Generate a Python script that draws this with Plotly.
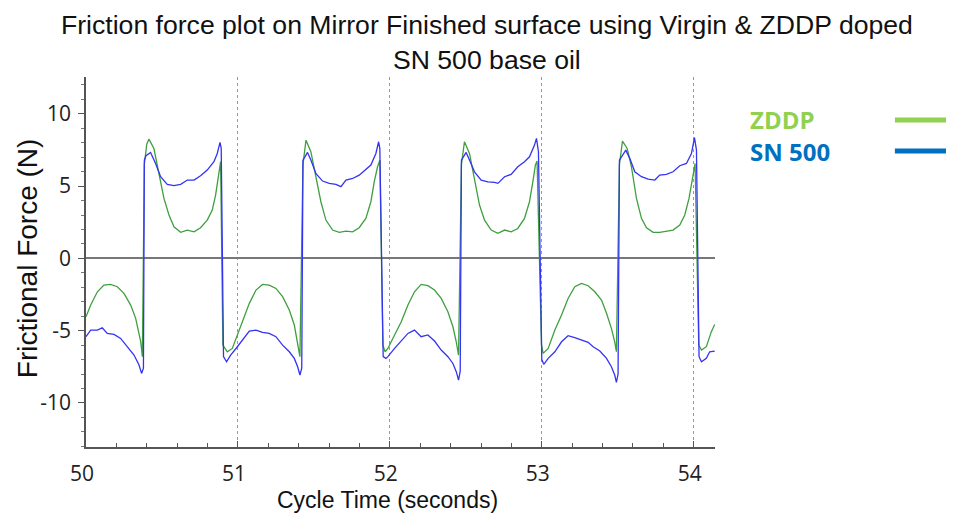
import plotly.graph_objects as go

# ---------------- data ----------------
zddp_t = [
    50.000, 50.031, 50.075, 50.118, 50.162, 50.206, 50.250, 50.294, 50.327, 50.360, 50.371,
    50.384, 50.400, 50.414, 50.447, 50.480, 50.513, 50.546, 50.579, 50.623, 50.667, 50.711,
    50.754, 50.798, 50.831, 50.853, 50.875, 50.886,
    50.901, 50.930, 50.963, 50.990, 51.031, 51.075, 51.119, 51.162, 51.206, 51.250, 51.294,
    51.338, 51.371, 51.393, 51.408,
    51.428, 51.448, 51.480, 51.513, 51.546, 51.579, 51.623, 51.667, 51.711, 51.755, 51.798,
    51.842, 51.875, 51.897, 51.919, 51.934,
    51.954, 51.969, 51.987, 52.031, 52.075, 52.119, 52.162, 52.206, 52.250, 52.294, 52.338,
    52.382, 52.415, 52.437, 52.452,
    52.471, 52.491, 52.524, 52.557, 52.590, 52.623, 52.667, 52.711, 52.755, 52.798, 52.842,
    52.886, 52.919, 52.941, 52.958, 52.969,
    52.998, 53.009, 53.042, 53.086, 53.130, 53.173, 53.217, 53.261, 53.305, 53.349, 53.393,
    53.426, 53.458, 53.480, 53.491,
    53.511, 53.531, 53.562, 53.590, 53.623, 53.656, 53.689, 53.733, 53.776, 53.820, 53.864,
    53.908, 53.941, 53.969, 53.991, 54.009,
    54.033, 54.051, 54.083, 54.116, 54.138,
]
zddp_f = [
    -4.04, -3.23, -2.31, -1.85, -1.80, -1.96, -2.42, -3.23, -4.15, -5.76, -6.80,
    6.50, 7.90, 8.25, 7.60, 5.99, 4.15, 3.00, 2.19, 1.80, 1.96, 1.84,
    2.12, 2.65, 3.34, 4.38, 5.88, 6.69,
    -6.00, -6.46, -6.23, -5.50, -4.38, -3.11, -2.19, -1.80, -1.85, -2.08, -2.65,
    -3.57, -4.61, -5.77, -6.80,
    6.50, 8.18, 7.38, 5.76, 3.92, 2.65, 1.96, 1.80, 1.89, 1.84, 2.12,
    2.77, 3.92, 5.30, 6.34, 6.80,
    -6.00, -6.46, -6.23, -5.30, -4.38, -3.23, -2.31, -1.80, -1.89, -2.19, -2.77,
    -3.69, -4.73, -5.77, -6.69,
    6.50, 8.07, 7.26, 5.53, 3.69, 2.65, 1.96, 1.73, 1.96, 1.84, 2.07,
    2.77, 3.92, 5.30, 6.46, 6.73,
    -6.00, -6.57, -6.23, -4.96, -3.92, -2.77, -1.96, -1.73, -1.89, -2.31, -2.88,
    -3.80, -4.84, -5.77, -6.46,
    6.50, 8.11, 7.61, 6.34, 4.15, 2.77, 2.12, 1.80, 1.80, 1.89, 1.96,
    2.31, 3.00, 4.15, 5.53, 6.57,
    -6.00, -6.34, -6.11, -5.07, -4.57,
]

sn500_t = [
    50.000, 50.031, 50.075, 50.107, 50.140, 50.184, 50.228, 50.272, 50.316, 50.349, 50.366,
    50.378, 50.384, 50.395, 50.425, 50.458, 50.491, 50.535, 50.579, 50.623, 50.667, 50.711,
    50.754, 50.798, 50.842, 50.864, 50.882, 50.890,
    50.905, 50.925, 50.952, 50.990, 51.031, 51.075, 51.119, 51.162, 51.206, 51.250, 51.294,
    51.338, 51.371, 51.393, 51.408, 51.420,
    51.428, 51.458, 51.480, 51.513, 51.557, 51.601, 51.645, 51.678, 51.711, 51.755, 51.798,
    51.842, 51.875, 51.908, 51.926, 51.934,
    51.956, 51.974, 51.987, 52.031, 52.075, 52.119, 52.162, 52.206, 52.250, 52.294, 52.338,
    52.382, 52.415, 52.437, 52.452, 52.463,
    52.471, 52.502, 52.524, 52.557, 52.601, 52.645, 52.689, 52.711, 52.755, 52.798, 52.842,
    52.886, 52.919, 52.952, 52.965, 52.978,
    53.000, 53.013, 53.042, 53.086, 53.130, 53.173, 53.217, 53.261, 53.305, 53.338, 53.382,
    53.426, 53.458, 53.480, 53.491, 53.502,
    53.511, 53.553, 53.579, 53.612, 53.656, 53.700, 53.744, 53.776, 53.820, 53.864, 53.908,
    53.952, 53.985, 54.005, 54.018,
    54.035, 54.051, 54.083, 54.105, 54.138,
]
sn500_f = [
    -5.42, -4.96, -4.96, -4.80, -5.19, -5.26, -5.54, -6.11, -6.69, -7.38, -7.96,
    -7.60, 6.80, 7.10, 7.33, 6.57, 5.65, 5.12, 5.03, 5.12, 5.42, 5.42,
    5.72, 6.11, 6.69, 7.26, 8.03, 7.61,
    -6.80, -7.15, -6.69, -6.20, -5.65, -5.03, -4.96, -5.12, -5.19, -5.42, -6.00,
    -6.46, -6.92, -7.50, -8.07, -7.60,
    6.80, 7.33, 6.80, 5.88, 5.35, 5.19, 5.12, 4.96, 5.42, 5.53, 5.76,
    6.18, 6.46, 7.26, 8.07, 7.60,
    -6.80, -6.92, -6.80, -6.23, -5.72, -5.19, -4.96, -5.42, -5.30, -5.72, -6.34,
    -6.80, -7.27, -7.84, -8.42, -7.80,
    6.80, 7.33, 6.80, 5.99, 5.42, 5.30, 5.26, 5.19, 5.65, 5.81, 6.34,
    6.69, 7.03, 7.84, 8.30, 7.38,
    -7.00, -7.33, -6.92, -6.46, -5.77, -5.35, -5.49, -5.65, -5.81, -6.11, -6.41,
    -6.92, -7.50, -8.07, -8.58, -8.00,
    6.80, 7.49, 6.92, 5.99, 5.65, 5.49, 5.42, 5.76, 5.81, 5.99, 6.41,
    6.57, 7.26, 8.35, 7.49,
    -6.80, -7.15, -6.92, -6.46, -6.41,
]

series_names = ["ZDDP", "SN 500"]
x_tick_vals = [50, 51, 52, 53, 54]
y_tick_vals = [-10, -5, 0, 5, 10]

title_line1 = "Friction force plot on Mirror Finished surface using Virgin & ZDDP doped"
title_line2 = "SN 500 base oil"
x_title = "Cycle Time (seconds)"
y_title = "Frictional Force (N)"

# ---------------- figure ----------------
fig = go.Figure()
fig.add_trace(go.Scatter(x=zddp_t, y=zddp_f, mode="lines", name=series_names[0],
                         line=dict(color="#3f9f3f", width=1.3)))
fig.add_trace(go.Scatter(x=sn500_t, y=sn500_f, mode="lines", name=series_names[1],
                         line=dict(color="#3333f5", width=1.3)))

# the page body has an 8px margin, so the figure is sized/offset to compensate
fig.update_layout(
    width=946, height=507,
    margin=dict(l=78, r=239, t=69, b=68),
    paper_bgcolor="white", plot_bgcolor="white",
    showlegend=False,
)

title_font = dict(family="Liberation Sans, Arial, sans-serif", size=26.6, color="#111")
for txt, yy in zip([title_line1, title_line2], [1.141, 1.046]):
    fig.add_annotation(text=txt, xref="paper", yref="paper", x=0.6375, y=yy,
                       xanchor="center", yanchor="middle", showarrow=False, font=title_font)

# axis titles
fig.add_annotation(text=x_title, xref="paper", yref="paper", x=0.48, y=-0.143,
                   xanchor="center", yanchor="middle", showarrow=False,
                   font=dict(family="Liberation Sans, Arial, sans-serif", size=23, color="#111"))
fig.add_annotation(text=y_title, xref="paper", yref="paper", x=-0.094, y=0.51,
                   xanchor="center", yanchor="middle", showarrow=False, textangle=-90,
                   font=dict(family="Liberation Sans, Arial, sans-serif", size=28, color="#111"))

fig.update_xaxes(
    range=[50, 54.14], tickvals=x_tick_vals, ticktext=[str(v) for v in x_tick_vals],
    automargin=False,
    showline=True, linecolor="#555", linewidth=1.5,
    ticks="inside", ticklen=6, tickcolor="#555", tickwidth=1,
    minor=dict(dtick=0.2, tick0=50, ticks="inside", ticklen=4, tickcolor="#555", showgrid=False),
    showgrid=True, gridcolor="#999", griddash="dot", gridwidth=1,
    zeroline=False,
    tickfont=dict(family="Open Sans, sans-serif", size=21, color="#222"),
    ticklabelstandoff=7, ticklabelshift=-4,
)
fig.update_yaxes(
    range=[-13.05, 12.55], tickvals=y_tick_vals, ticktext=[str(v) for v in y_tick_vals],
    automargin=False,
    showline=True, linecolor="#555", linewidth=1.5,
    ticks="outside", ticklen=6, tickcolor="#555", tickwidth=1,
    minor=dict(dtick=1, tick0=0, ticks="outside", ticklen=3, tickcolor="#777", showgrid=False),
    showgrid=False,
    zeroline=True, zerolinecolor="#777", zerolinewidth=1.5,
    tickfont=dict(family="Open Sans, sans-serif", size=21, color="#222"),
    ticklabelstandoff=3,
)

# custom legend: text on the left, line sample on the right
legend_colors_text = ["#92D050", "#0070C0"]
legend_y = [0.884, 0.800]
for name, col, yy in zip(series_names, legend_colors_text, legend_y):
    fig.add_annotation(text="<b>" + name + "</b>", xref="paper", yref="paper",
                       x=1.053, y=yy, xanchor="left", yanchor="middle", showarrow=False,
                       font=dict(family="Open Sans, sans-serif", size=24, color=col))
    fig.add_shape(type="line", xref="paper", yref="paper", x0=1.286, x1=1.40, y0=yy, y1=yy,
                  line=dict(color=col, width=5))

fig.write_html("out.html")
